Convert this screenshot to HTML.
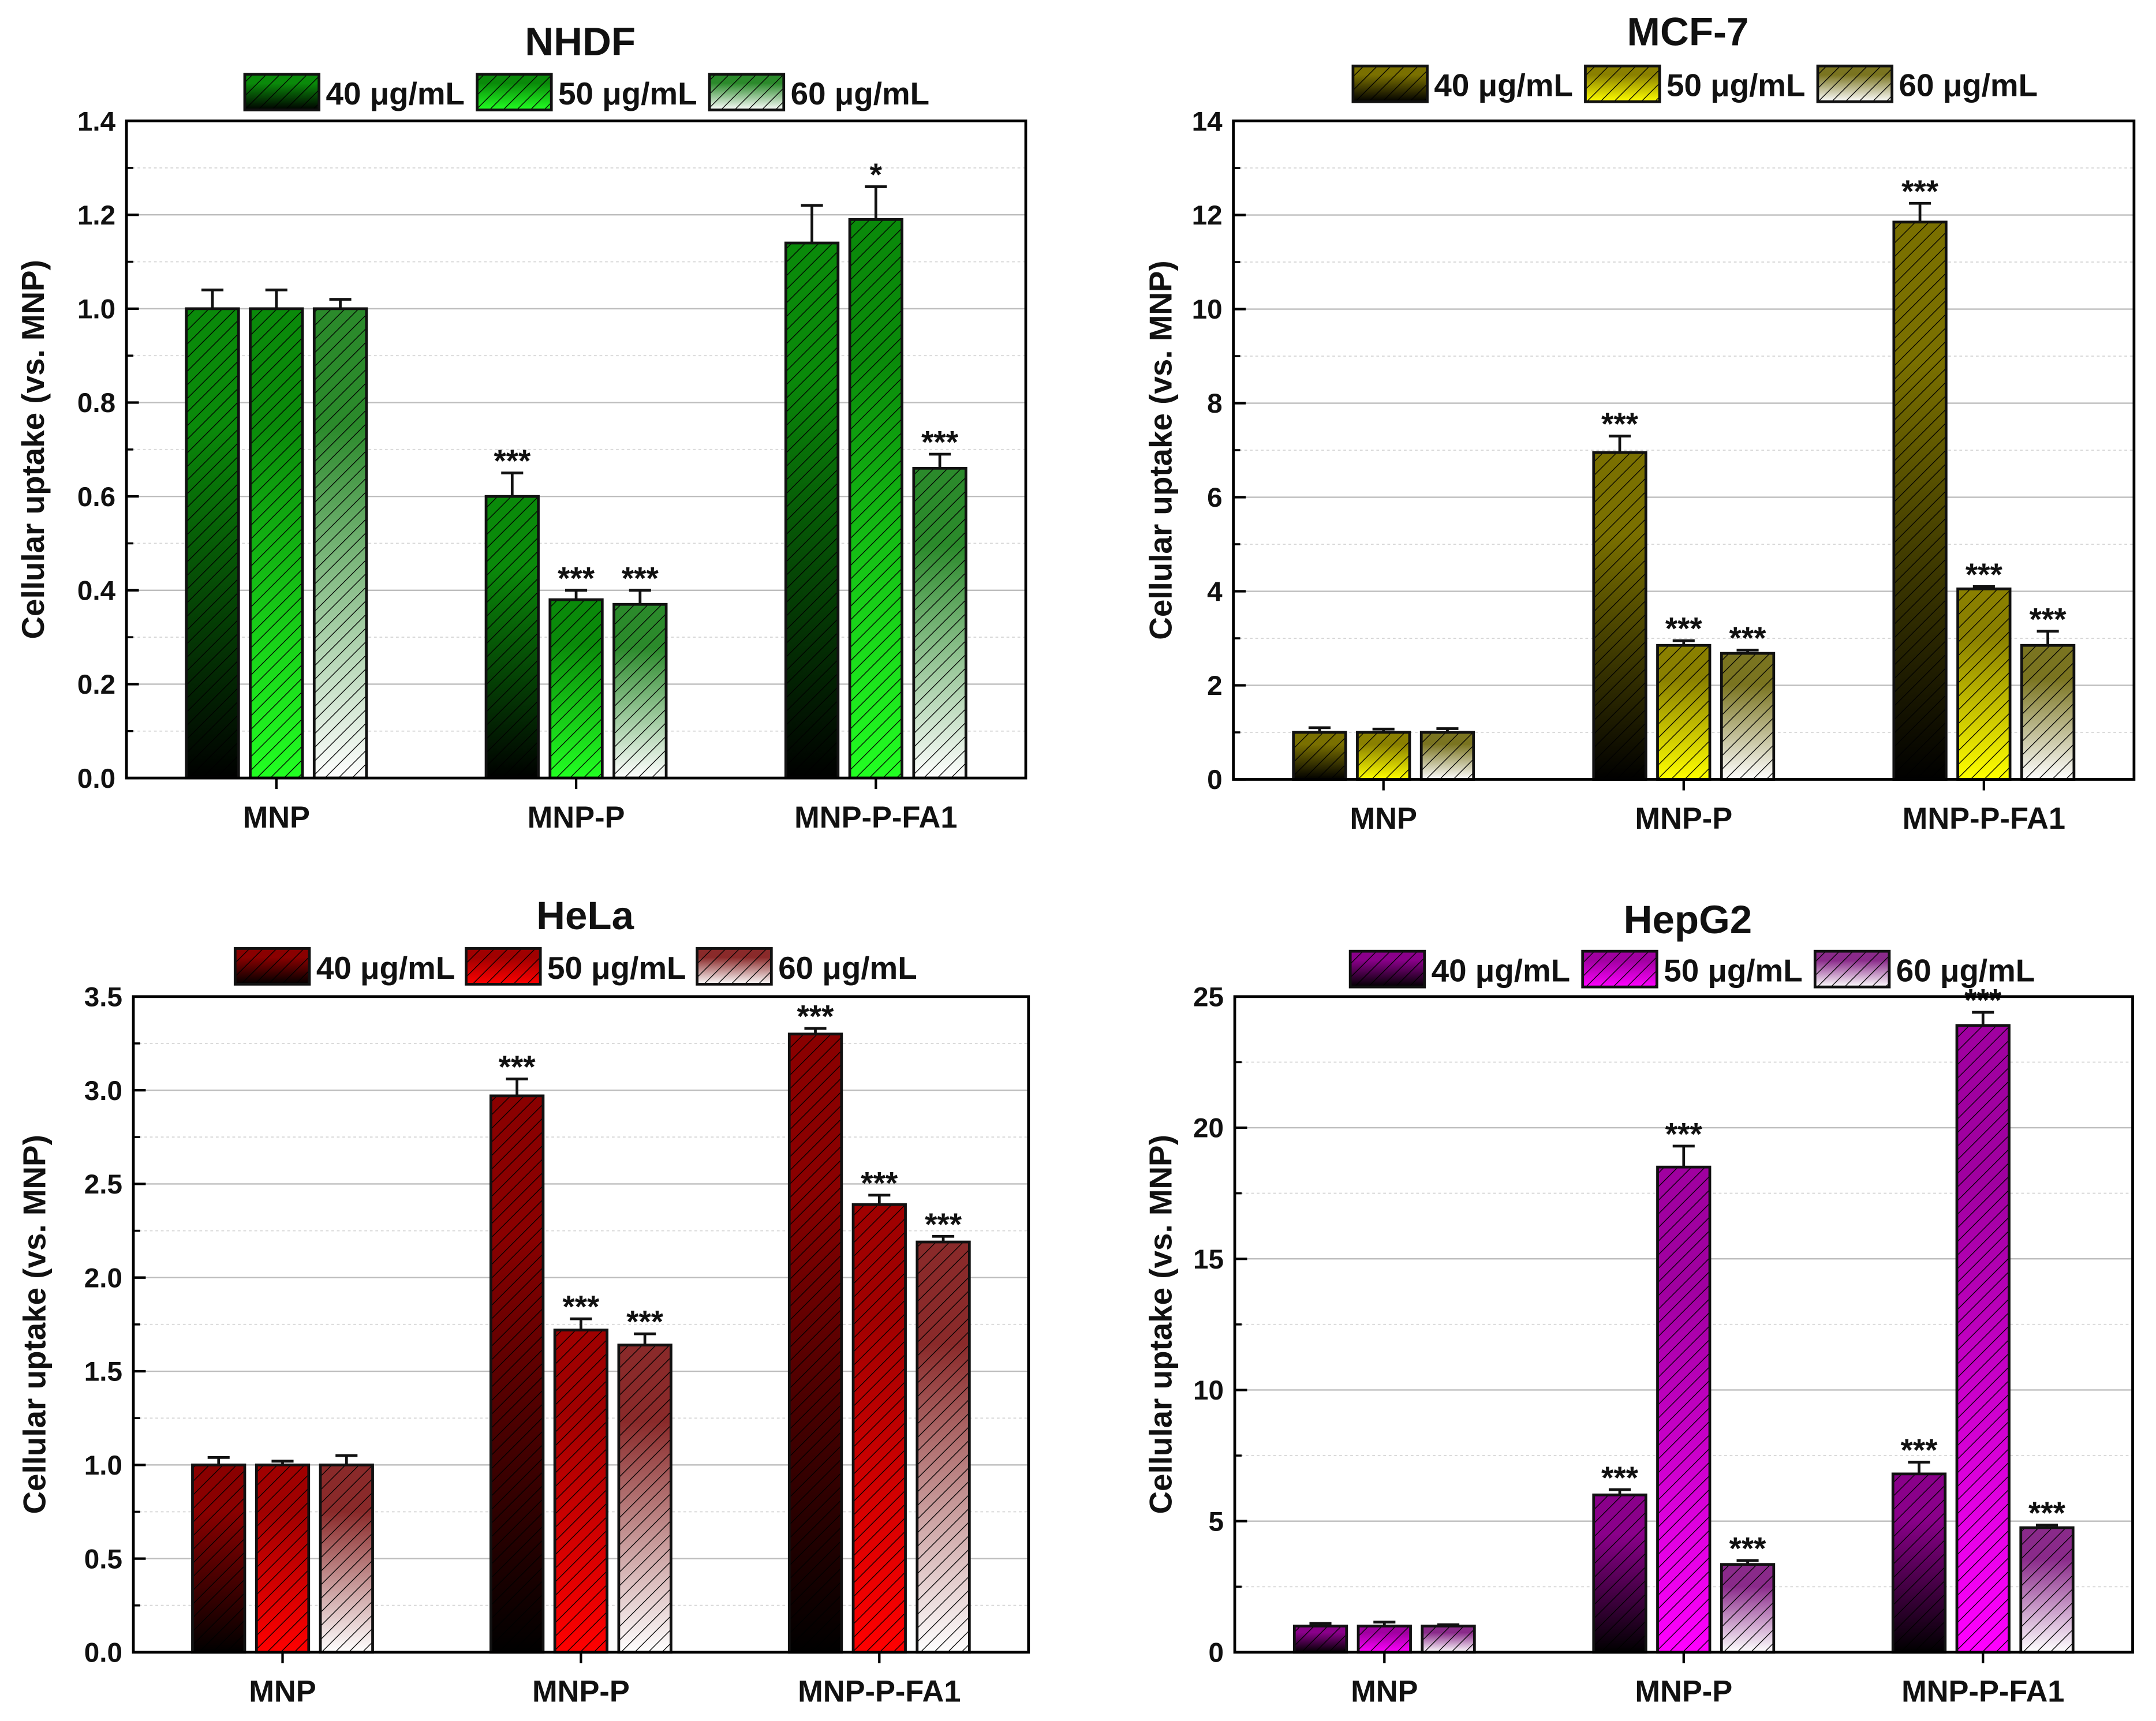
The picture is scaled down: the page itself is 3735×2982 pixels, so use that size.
<!DOCTYPE html>
<html><head><meta charset="utf-8">
<style>
html,body{margin:0;padding:0;background:#fff;}
svg{display:block;}
text{font-family:"Liberation Sans",Arial,sans-serif;font-weight:bold;fill:#111;}
</style></head>
<body>
<svg id="fig" width="3735" height="2982" viewBox="0 0 1568 1252" preserveAspectRatio="none" xmlns="http://www.w3.org/2000/svg">
<defs id="defs">
<pattern id="hatch" patternUnits="userSpaceOnUse" width="7" height="7" patternTransform="rotate(45)">
<line x1="0" y1="0" x2="0" y2="7" stroke="#000" stroke-width="1.1"/>
</pattern>
</defs>
</svg>
<script>
const categories = ["MNP","MNP-P","MNP-P-FA1"];
const seriesLabels = ["40 μg/mL","50 μg/mL","60 μg/mL"];

const nhdfVals40 = [1.0,0.60,1.14], nhdfErr40 = [0.04,0.05,0.08], nhdfSig40 = ["","***",""];
const nhdfVals50 = [1.0,0.38,1.19], nhdfErr50 = [0.04,0.02,0.07], nhdfSig50 = ["","***","*"];
const nhdfVals60 = [1.0,0.37,0.66], nhdfErr60 = [0.02,0.03,0.03], nhdfSig60 = ["","***","***"];
const nhdfTicks = [0,0.2,0.4,0.6,0.8,1.0,1.2,1.4];
const nhdfTickLabels = ["0.0","0.2","0.4","0.6","0.8","1.0","1.2","1.4"];

const mcfVals40 = [1.0,6.95,11.85], mcfErr40 = [0.1,0.35,0.4], mcfSig40 = ["","***","***"];
const mcfVals50 = [1.0,2.85,4.05], mcfErr50 = [0.07,0.1,0.05], mcfSig50 = ["","***","***"];
const mcfVals60 = [1.0,2.68,2.85], mcfErr60 = [0.08,0.07,0.3], mcfSig60 = ["","***","***"];
const mcfTicks = [0,2,4,6,8,10,12,14];
const mcfTickLabels = ["0","2","4","6","8","10","12","14"];

const helaVals40 = [1.0,2.97,3.30], helaErr40 = [0.04,0.09,0.03], helaSig40 = ["","***","***"];
const helaVals50 = [1.0,1.72,2.39], helaErr50 = [0.02,0.06,0.05], helaSig50 = ["","***","***"];
const helaVals60 = [1.0,1.64,2.19], helaErr60 = [0.05,0.06,0.03], helaSig60 = ["","***","***"];
const helaTicks = [0,0.5,1.0,1.5,2.0,2.5,3.0,3.5];
const helaTickLabels = ["0.0","0.5","1.0","1.5","2.0","2.5","3.0","3.5"];

const hepVals40 = [1.0,6.0,6.8], hepErr40 = [0.1,0.2,0.45], hepSig40 = ["","***","***"];
const hepVals50 = [1.0,18.5,23.9], hepErr50 = [0.15,0.8,0.5], hepSig50 = ["","***","***"];
const hepVals60 = [1.0,3.35,4.75], hepErr60 = [0.05,0.15,0.1], hepSig60 = ["","***","***"];
const hepTicks = [0,5,10,15,20,25];
const hepTickLabels = ["0","5","10","15","20","25"];

const NS="http://www.w3.org/2000/svg";
const svg=document.getElementById('fig');
const defs=document.getElementById('defs');
function mk(tag,attrs,parent){const e=document.createElementNS(NS,tag);for(const k in attrs)e.setAttribute(k,attrs[k]);(parent||svg).appendChild(e);return e;}
function grad(id,top,bottom){
  const g=mk('linearGradient',{id:id,x1:0,y1:0,x2:0,y2:1},defs);
  mk('stop',{offset:0,'stop-color':top},g);mk('stop',{offset:0.25,'stop-color':top},g);mk('stop',{offset:1,'stop-color':bottom},g);
}

const panels=[
 {key:'nhdf',title:'NHDF',L:92,R:746,T:88,B:566,max:1.4,ticks:nhdfTicks,tl:nhdfTickLabels,
  vals:[nhdfVals40,nhdfVals50,nhdfVals60],errs:[nhdfErr40,nhdfErr50,nhdfErr60],sig:[nhdfSig40,nhdfSig50,nhdfSig60],
  cols:[['#0a8a0a','#000'],['#0a8a0a','#22ff22'],['#2b8a2b','#ffffff']],titleY:40,legY:54,legX:[178,347,516],ylabX:32},
 {key:'mcf7',title:'MCF-7',L:897,R:1552,T:88,B:567,max:14,ticks:mcfTicks,tl:mcfTickLabels,
  vals:[mcfVals40,mcfVals50,mcfVals60],errs:[mcfErr40,mcfErr50,mcfErr60],sig:[mcfSig40,mcfSig50,mcfSig60],
  cols:[['#7a7000','#000'],['#8a8000','#ffff00'],['#7a7420','#ffffff']],titleY:33,legY:48,legX:[984,1153,1322],ylabX:852},
 {key:'hela',title:'HeLa',L:97,R:748,T:725,B:1202,max:3.5,ticks:helaTicks,tl:helaTickLabels,
  vals:[helaVals40,helaVals50,helaVals60],errs:[helaErr40,helaErr50,helaErr60],sig:[helaSig40,helaSig50,helaSig60],
  cols:[['#8a0000','#000'],['#a00000','#ff0000'],['#8a2a2a','#ffffff']],titleY:676,legY:690,legX:[171,339,507],ylabX:33},
 {key:'hepg2',title:'HepG2',L:898,R:1551,T:725,B:1202,max:25,ticks:hepTicks,tl:hepTickLabels,
  vals:[hepVals40,hepVals50,hepVals60],errs:[hepErr40,hepErr50,hepErr60],sig:[hepSig40,hepSig50,hepSig60],
  cols:[['#8a008a','#000'],['#a000a0','#ff00ff'],['#8a2a8a','#ffffff']],titleY:679,legY:692,legX:[982,1151,1320],ylabX:852}
];

panels.forEach(p=>{
  const g=mk('g',{});
  
  
  p.cols.forEach((c,i)=>grad(p.key+'g'+i,c[0],c[1]));
  const y=v=>p.B-(v/p.max)*(p.B-p.T);
  const W=p.R-p.L, step=W/3;
  const cx=i=>p.L+step*(i+0.5);
  for(let i=0;i<p.ticks.length;i++){
    const v=p.ticks[i];
    if(i>0){const gl=mk('line',{x1:p.L,x2:p.R,y1:y(v),y2:y(v),stroke:'#bdbdbd','stroke-width':1},g);
      }
    if(i<p.ticks.length-1){const mv=(p.ticks[i]+p.ticks[i+1])/2;
      mk('line',{x1:p.L,x2:p.R,y1:y(mv),y2:y(mv),stroke:'#d8d8d8','stroke-width':0.8,'stroke-dasharray':'2,2'},g);
      mk('line',{x1:p.L,x2:p.L+5,y1:y(mv),y2:y(mv),stroke:'#000','stroke-width':1.5},g);}
    mk('line',{x1:p.L,x2:p.L+9,y1:y(v),y2:y(v),stroke:'#000','stroke-width':1.8},g);
    const t=mk('text',{x:p.L-8,y:y(v)+7,'text-anchor':'end','font-size':20},g);
    t.textContent=p.tl[i];
    
  }
  const bw=38, off=46.5;
  for(let s=0;s<3;s++){
    for(let c=0;c<3;c++){
      const v=p.vals[s][c], e=p.errs[s][c];
      const x=cx(c)+(s-1)*off-bw/2, top=y(v);
      const et=y(v+e), mx=x+bw/2;
      mk('line',{x1:mx,x2:mx,y1:top,y2:et,stroke:'#111','stroke-width':2},g);
      mk('line',{x1:mx-8,x2:mx+8,y1:et,y2:et,stroke:'#111','stroke-width':2},g);
      const r=mk('rect',{x:x,y:top,width:bw,height:p.B-top,fill:'url(#'+p.key+'g'+s+')'},g);
      
      
      mk('rect',{x:x,y:top,width:bw,height:p.B-top,fill:'url(#hatch)',stroke:'#111','stroke-width':2},g);
      if(p.sig[s][c]){const st=mk('text',{x:mx,y:et-1,'text-anchor':'middle','font-size':23},g);st.textContent=p.sig[s][c];
        }
    }
    const lx=p.legX[s];
    const lr=mk('rect',{x:lx,y:p.legY,width:54,height:26,fill:'url(#'+p.key+'g'+s+')'},g);
    
    mk('rect',{x:lx,y:p.legY,width:54,height:26,fill:'url(#hatch)',stroke:'#111','stroke-width':2},g);
    const lt=mk('text',{x:lx+59,y:p.legY+22,'font-size':23},g);lt.textContent=seriesLabels[s];
    
  }
  mk('rect',{x:p.L,y:p.T,width:W,height:p.B-p.T,fill:'none',stroke:'#000','stroke-width':2},g);
  categories.forEach((c,i)=>{
    mk('line',{x1:cx(i),x2:cx(i),y1:p.B,y2:p.B+8,stroke:'#000','stroke-width':1.8},g);
    const t=mk('text',{x:cx(i),y:p.B+36,'text-anchor':'middle','font-size':22},g);t.textContent=c;
    
  });
  const tt=mk('text',{x:(p.L+p.R)/2+3,y:p.titleY,'text-anchor':'middle','font-size':29},g);tt.textContent=p.title;
  
  const yl=mk('text',{x:0,y:0,'text-anchor':'middle','font-size':23,transform:'translate('+p.ylabX+','+((p.T+p.B)/2)+') rotate(-90)'},g);
  yl.textContent='Cellular uptake (vs. MNP)';
  
});
</script>
</body></html>
